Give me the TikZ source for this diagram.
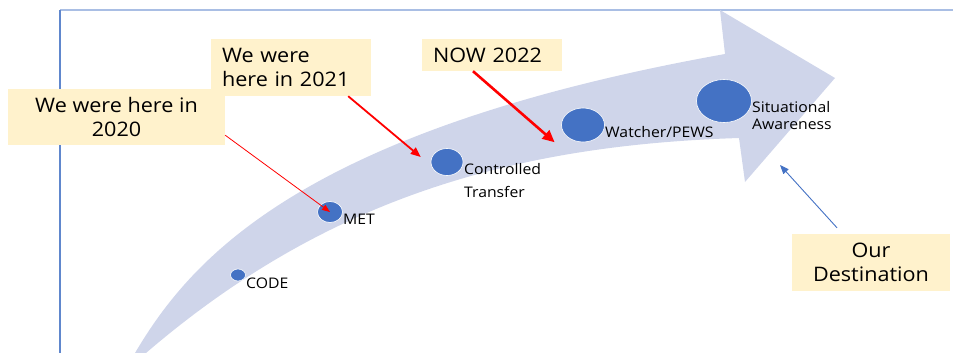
\documentclass[tikz,border=0pt]{standalone}
\usepackage{fontspec}
\setmainfont{Open Sans}[FakeStretch=1.08]
\usepackage{tikz}
\usetikzlibrary{shapes.geometric, arrows.meta, positioning}

\definecolor{bandcol}{HTML}{CFD5EA}
\definecolor{dotblue}{HTML}{4472C4}
\definecolor{boxyellow}{HTML}{FFF2CC}
\definecolor{framelight}{HTML}{A9BEE4}

\begin{document}
\begin{tikzpicture}[x=1pt, y=-1pt,
    dot/.style={ellipse, fill=dotblue, draw=white, line width=0.6pt, inner sep=0pt},
    lbl/.style={anchor=west, inner sep=0pt, font=\fontsize{14.6}{17}\selectfont, align=left},
    ybox/.style={rectangle, fill=boxyellow, inner sep=0pt, font=\fontsize{20}{24}\selectfont},
    redarrow/.style={red, -{Triangle[length=10pt, width=8pt]}},
]
\useasboundingbox (0,0) rectangle (953,353);

% frame
\draw[framelight, line width=1.8pt] (60,10) -- (953,10);
\draw[dotblue!85, line width=1.1pt] (60,10) -- (60,353);

% big curved arrow
\fill[bandcol] (135,353) .. controls (190,260) and (300,130) .. (725,54)
    -- (720,10) -- (835,78) -- (745,182) -- (739,138)
    .. controls (520,145) and (330,195) .. (146,353) -- cycle;

% milestones
\node[dot, minimum width=15pt, minimum height=12pt] (code) at (238,275) {};
\node[dot, minimum width=25pt, minimum height=21pt] (met) at (330,212) {};
\node[dot, minimum width=32pt, minimum height=27pt] (ctrl) at (447,162) {};
\node[dot, minimum width=43pt, minimum height=34pt] (watcher) at (583,125) {};
\node[dot, minimum width=55pt, minimum height=43pt] (sitaware) at (724,101) {};

% milestone labels
\node[lbl] (codelbl) at (246,283) {CODE};
\node[lbl] (metlbl) at (343,219) {MET};
\node[lbl, font=\fontsize{14.6}{23}\selectfont] (ctrllbl) at (464,181) {Controlled\\Transfer};
\node[lbl] (watcherlbl) at (605,132) {Watcher/PEWS};
\node[lbl] (sitlbl) at (752,116) {Situational\\Awareness};

% callouts
\node[ybox, minimum width=160pt, minimum height=57pt, inner xsep=11pt, text width=138pt, align=left] (box21) at (291,67.5) {We were\\here in 2021};
\node[ybox, minimum width=217pt, minimum height=56pt, align=center] (box20) at (116.5,117) {We were here in\\2020};
\node[ybox, minimum height=32pt, inner xsep=11pt, text width=118pt, align=left] (now) at (492,55) {NOW 2022};
\node[ybox, minimum width=158pt, minimum height=57pt, align=center] (dest) at (871,262.5) {Our\\Destination};

% arrows
\coordinate (desttip) at (780,165);
\draw[redarrow, line width=0.8pt, -{Triangle[length=8pt, width=6pt]}] ([yshift=10pt]box20.south east) -- (met.center);
\draw[redarrow, line width=1.8pt] ([xshift=-23pt]box21.south east) -- ([xshift=-10pt, yshift=5pt]ctrl.west);
\draw[redarrow, line width=2.6pt, -{Triangle[length=12pt, width=11pt]}] ([xshift=-19pt]now.south) -- ([xshift=-13pt, yshift=-5pt]watcher.south west);
\draw[dotblue, line width=0.9pt, -{Triangle[length=9pt, width=7pt]}] ([xshift=-34pt, yshift=6pt]dest.north) -- (desttip);

\end{tikzpicture}
\end{document}
